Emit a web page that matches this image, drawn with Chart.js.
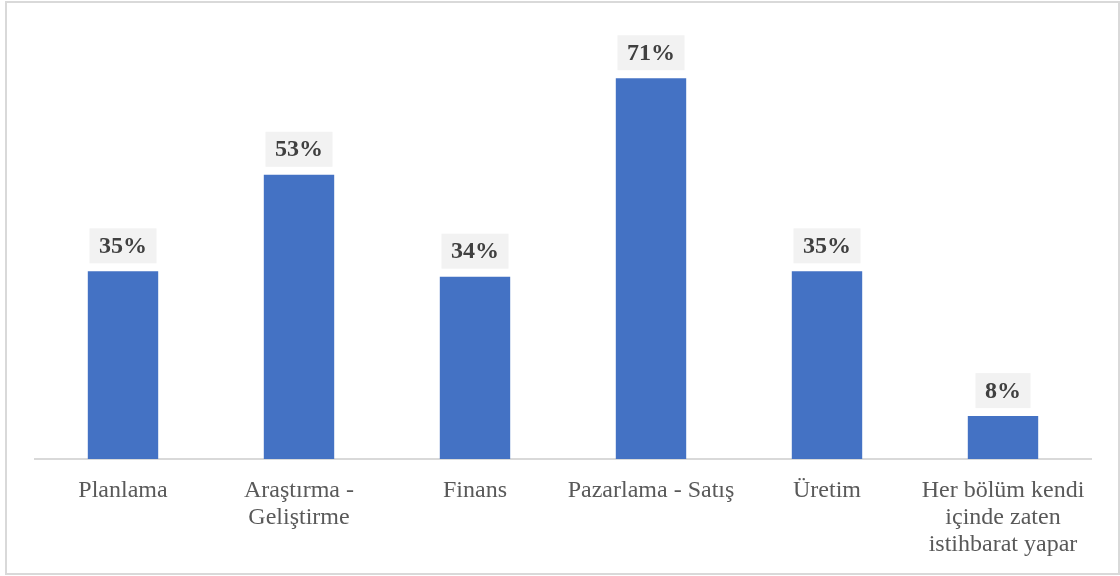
<!DOCTYPE html>
<html>
<head>
<meta charset="utf-8">
<script src="https://cdn.jsdelivr.net/npm/chart.js@4"></script>
<style>
  html, body { margin: 0; padding: 0; background: #fff; }
  #wrap { position: relative; width: 1120px; height: 576px; }
  #frame { position: absolute; left: 5px; top: 1px; width: 1111px; height: 570px;
           border: 2px solid #d9d9d9; pointer-events: none; }
</style>
</head>
<body>
<div id="wrap">
  <canvas id="c" width="1120" height="576"></canvas>
  <div id="frame"></div>
</div>
<script>
const categories = [
  'Planlama',
  ['Araştırma -', 'Geliştirme'],
  'Finans',
  'Pazarlama - Satış',
  'Üretim',
  ['Her bölüm kendi', 'içinde zaten', 'istihbarat yapar']
];
const shares = [35, 53, 34, 71, 35, 8];
const valueLabels = ['35%', '53%', '34%', '71%', '35%', '8%'];

// Boxed value labels above each bar
const valueBoxes = {
  id: 'valueBoxes',
  afterDatasetsDraw(chart) {
    const ctx = chart.ctx;
    const meta = chart.getDatasetMeta(0);
    ctx.save();
    ctx.font = 'bold 24px "Liberation Serif", "Times New Roman", serif';
    ctx.textAlign = 'center';
    ctx.textBaseline = 'middle';
    meta.data.forEach((bar, i) => {
      const txt = valueLabels[i];
      const w = ctx.measureText(txt).width + 19;
      const h = 35;
      const bottom = bar.y - 8;
      ctx.fillStyle = '#f2f2f2';
      ctx.fillRect(bar.x - w / 2, bottom - h, w, h);
      ctx.fillStyle = '#404040';
      ctx.fillText(txt, bar.x, bottom - h / 2 + 1);
    });
    ctx.restore();
  }
};

new Chart(document.getElementById('c'), {
  type: 'bar',
  data: {
    labels: categories,
    datasets: [{
      data: shares,
      backgroundColor: '#4472c4',
      borderWidth: 0,
      barPercentage: 0.8,
      categoryPercentage: 0.5
    }]
  },
  options: {
    responsive: false,
    animation: false,
    layout: { padding: { left: 35, right: 29, top: 30, bottom: 0 } },
    plugins: { legend: { display: false }, tooltip: { enabled: false } },
    scales: {
      x: {
        grid: { display: false, drawTicks: false },
        border: { display: true, color: '#d9d9d9', width: 2 },
        ticks: {
          color: '#595959',
          padding: 18,
          maxRotation: 0,
          autoSkip: false,
          font: { family: '"Liberation Serif", "Times New Roman", serif', size: 24, lineHeight: 1.125 }
        },
        afterFit(scale) { scale.height = 117; }
      },
      y: {
        display: false,
        min: 0,
        max: 80
      }
    }
  },
  plugins: [valueBoxes]
});
</script>
</body>
</html>
